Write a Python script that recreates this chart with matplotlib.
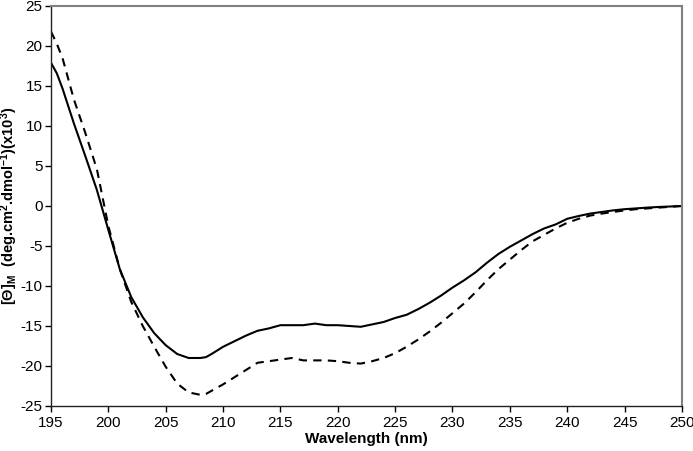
import matplotlib
matplotlib.use("Agg")
import matplotlib.pyplot as plt

plt.rcParams['font.family'] = ['Liberation Sans', 'DejaVu Sans']
plt.rcParams['mathtext.fontset'] = 'custom'
plt.rcParams['mathtext.rm'] = 'Liberation Sans:bold'
plt.rcParams['mathtext.bf'] = 'Liberation Sans:bold'
plt.rcParams['mathtext.it'] = 'Liberation Sans:bold'
plt.rcParams['axes.unicode_minus'] = False

wavelength = [195, 195.5, 196, 197, 198, 199, 200, 201, 202, 203, 204, 205, 206, 207, 208, 208.5,
              209, 210, 211, 212, 213, 214, 215, 216, 217, 218, 219, 220, 221, 222, 223, 224,
              225, 226, 227, 228, 229, 230, 231, 232, 233, 234, 235, 236, 237, 238, 239, 240,
              241, 242, 243, 244, 245, 246, 247, 248, 249, 250]

solid = [17.9, 16.6, 14.7, 10.3, 6.2, 2.0, -3.0, -7.9, -11.4, -13.9, -15.9, -17.4, -18.5, -19.0, -19.0, -18.9,
         -18.5, -17.6, -16.9, -16.2, -15.6, -15.3, -14.9, -14.9, -14.9, -14.7, -14.9, -14.9, -15.0, -15.1, -14.8, -14.5,
         -14.0, -13.6, -12.9, -12.1, -11.2, -10.2, -9.3, -8.3, -7.1, -6.0, -5.1, -4.3, -3.5, -2.8, -2.3, -1.6,
         -1.25, -0.95, -0.75, -0.55, -0.4, -0.3, -0.2, -0.12, -0.06, 0.0]

dashed = [21.8, 20.3, 18.5, 13.3, 9.1, 4.6, -2.5, -7.9, -12.0, -15.0, -17.6, -20.1, -22.2, -23.3, -23.6, -23.5,
          -23.1, -22.3, -21.4, -20.5, -19.6, -19.4, -19.2, -19.0, -19.3, -19.3, -19.3, -19.4, -19.6, -19.7, -19.4, -19.0,
          -18.4, -17.6, -16.7, -15.7, -14.6, -13.4, -12.2, -10.8, -9.3, -7.9, -6.7, -5.5, -4.4, -3.6, -2.8, -2.1,
          -1.6, -1.2, -0.95, -0.75, -0.55, -0.4, -0.3, -0.2, -0.1, 0.0]

xticks = list(range(195, 251, 5))
yticks = list(range(-25, 26, 5))

fig = plt.figure(figsize=(6.93, 4.51), dpi=100)
ax = fig.add_axes([0.0736, 0.0998, 0.9104, 0.8869])

ax.plot(wavelength, solid, color='black', lw=1.5, solid_joinstyle='round')
ax.plot(wavelength, dashed, color='black', lw=1.5, dashes=(4, 3))

ax.set_xlim(195, 250)
ax.set_ylim(-25, 25)
ax.set_xticks(xticks)
ax.set_yticks(yticks)
ax.tick_params(direction='out', length=4, width=1, labelsize=11, colors='black', pad=3)
ax.tick_params(axis='y', pad=2)

for s in ['left', 'bottom']:
    ax.spines[s].set_color('#222222')
    ax.spines[s].set_linewidth(1.0)
for s in ['top', 'right']:
    ax.spines[s].set_color('#808080')
    ax.spines[s].set_linewidth(1.5)

ax.set_xlabel('Wavelength (nm)', fontsize=11, fontweight='bold', labelpad=2)
ax.set_ylabel(r'$[\Theta]_{M}$  (deg.cm$^{2}$.dmol$^{-1}$)(x10$^{3}$)', fontsize=10.5,
              fontweight='bold')
ax.yaxis.set_label_coords(-0.049, 0.5)

fig.savefig('out.png', dpi=100)
